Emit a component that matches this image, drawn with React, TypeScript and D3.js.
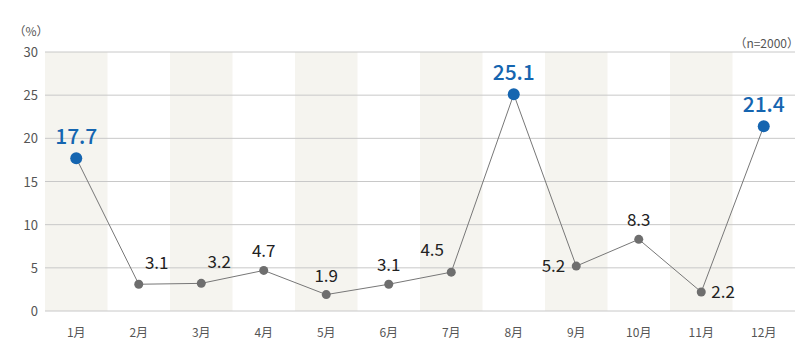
import React, { useEffect, useRef } from 'react';
import * as d3 from 'd3';

const months = ['1月', '2月', '3月', '4月', '5月', '6月', '7月', '8月', '9月', '10月', '11月', '12月'];
const rates = [17.7, 3.1, 3.2, 4.7, 1.9, 3.1, 4.5, 25.1, 5.2, 8.3, 2.2, 21.4];
const highlight = [true, false, false, false, false, false, false, true, false, false, false, true];
// where each value label sits relative to its point
const labelSide = ['top', 'upright', 'upright', 'top', 'top', 'top', 'upleft', 'top', 'left', 'top', 'right', 'top'];
const yTicks = [0, 5, 10, 15, 20, 25, 30];

const W = 800;
const H = 364;
const font = '"Noto Sans CJK JP", "Noto Sans", sans-serif';

const App = () => {
  const ref = useRef<SVGSVGElement>(null);

  useEffect(() => {
    const svg = d3.select(ref.current);
    svg.selectAll('*').remove();

    const left = 45, right = 795, top = 52, bottom = 311;

    const x = d3.scaleBand().domain(months).range([left, right]).padding(0);
    const y = d3.scaleLinear().domain([0, 30]).range([bottom, top]);
    const cx = (d: string) => (x(d) as number) + x.bandwidth() / 2;

    // alternating bands
    svg
      .append('g')
      .selectAll('rect')
      .data(months.filter((_, i) => i % 2 === 0))
      .join('rect')
      .attr('x', (d) => x(d) as number)
      .attr('y', top)
      .attr('width', x.bandwidth())
      .attr('height', bottom - top)
      .attr('fill', '#f5f4ef');

    // gridlines
    svg
      .append('g')
      .selectAll('line')
      .data(yTicks)
      .join('line')
      .attr('x1', left)
      .attr('x2', right)
      .attr('y1', (d) => y(d))
      .attr('y2', (d) => y(d))
      .attr('stroke', '#c8c8c8')
      .attr('stroke-width', 1);

    // y tick labels
    svg
      .append('g')
      .selectAll('text')
      .data(yTicks)
      .join('text')
      .attr('x', 38)
      .attr('y', (d) => y(d) + 5)
      .attr('text-anchor', 'end')
      .attr('font-family', font)
      .attr('font-size', 13)
      .attr('fill', '#555')
      .text((d) => d);

    svg
      .append('text')
      .attr('x', 31)
      .attr('y', 36)
      .attr('text-anchor', 'middle')
      .attr('font-family', font)
      .attr('font-size', 12)
      .attr('fill', '#555')
      .text('（%）');

    svg
      .append('text')
      .attr('x', 799)
      .attr('y', 48)
      .attr('text-anchor', 'end')
      .attr('font-family', font)
      .attr('font-size', 12)
      .attr('fill', '#555')
      .text('（n=2000）');

    // x labels
    svg
      .append('g')
      .selectAll('text')
      .data(months)
      .join('text')
      .attr('x', (d) => cx(d))
      .attr('y', 337)
      .attr('text-anchor', 'middle')
      .attr('font-family', font)
      .attr('font-size', 12)
      .attr('fill', '#555')
      .text((d) => d);

    const pts = months.map((m, i) => ({ m, v: rates[i], hi: highlight[i], side: labelSide[i] }));

    svg
      .append('path')
      .datum(pts)
      .attr('fill', 'none')
      .attr('stroke', '#777')
      .attr('stroke-width', 1)
      .attr(
        'd',
        d3
          .line<any>()
          .x((d) => cx(d.m))
          .y((d) => y(d.v))
      );

    svg
      .append('g')
      .selectAll('circle')
      .data(pts)
      .join('circle')
      .attr('cx', (d) => cx(d.m))
      .attr('cy', (d) => y(d.v))
      .attr('r', (d) => (d.hi ? 6 : 4.5))
      .attr('fill', (d) => (d.hi ? '#1565b0' : '#6e6e6e'));

    const offsets: Record<string, [number, number, string]> = {
      top: [0, -13, 'middle'],
      upright: [18, -15, 'middle'],
      upleft: [-19, -16, 'middle'],
      left: [-11, 6, 'end'],
      right: [10, 6, 'start'],
    };

    svg
      .append('g')
      .selectAll('text')
      .data(pts)
      .join('text')
      .attr('x', (d) => cx(d.m) + offsets[d.side][0])
      .attr('y', (d) => y(d.v) + (d.hi ? -14 : offsets[d.side][1]))
      .attr('text-anchor', (d) => offsets[d.side][2])
      .attr('font-family', font)
      .attr('font-size', (d) => (d.hi ? 21 : 17))
      .attr('font-weight', (d) => (d.hi ? 500 : 400))
      .attr('fill', (d) => (d.hi ? '#1565b0' : '#222'))
      .text((d) => d.v.toFixed(1));
  }, []);

  return <svg ref={ref} width={W} height={H} style={{ position: 'absolute', left: 0, top: 0 }} />;
};

export default App;
